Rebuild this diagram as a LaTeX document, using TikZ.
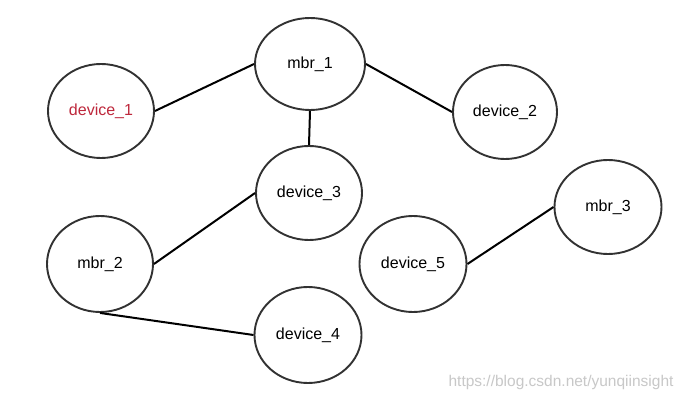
\documentclass[tikz,border=0pt]{standalone}
\usepackage{fontspec}
\setmainfont{Liberation Sans}
\usetikzlibrary{shapes.geometric}
\definecolor{devred}{RGB}{190,40,60}
\definecolor{rimgray}{RGB}{50,50,50}
\definecolor{markgray}{RGB}{200,200,200}
\tikzset{
  netnode/.style={ellipse, draw=rimgray, line width=1.9pt, fill=white,
    minimum width=106pt, minimum height=94pt, inner sep=0pt,
    font=\fontsize{16}{19}\selectfont},
  netlink/.style={line width=2pt, black}
}
\begin{document}
\begin{tikzpicture}[x=1pt, y=-1pt]
        \useasboundingbox[fill=white] (0,0) rectangle (686,401);

        % Узлы
        \node[netnode, text=devred] (dev1) at (101,111) {device\_1};
        \node[netnode, minimum width=110pt, minimum height=92pt] (mbr1) at (310,64) {mbr\_1};
        \node[netnode, minimum width=104pt] (dev2) at (505,112) {device\_2};
        \node[netnode] (dev3) at (309,193) {device\_3};
        \node[netnode, minimum height=96pt] (mbr2) at (100,264) {mbr\_2};
        \node[netnode, minimum width=107pt, minimum height=96pt] (dev4) at (308,335) {device\_4};
        \node[netnode, minimum width=107pt, minimum height=96pt] (dev5) at (413,264) {device\_5};
        \node[netnode, minimum width=107pt] (mbr3) at (608,207) {mbr\_3};

        % Связи
        \draw[netlink] (dev1.east) -- (mbr1.west);
        \draw[netlink] (mbr1.east) -- (dev2.west);
        \draw[netlink] (mbr1.south) -- (dev3.north);
        \draw[netlink] (mbr2.east) -- (dev3.west);
        \draw[netlink] (mbr2.south) -- (dev4.west);
        \draw[netlink] (dev5.east) -- (mbr3.west);

        % Подпись
        \node[text=markgray, font=\fontsize{15.5}{18}\selectfont, anchor=east] (mark) at (677,382) {https://blog.csdn.net/yunqiinsight};
    \end{tikzpicture}
\end{document}
